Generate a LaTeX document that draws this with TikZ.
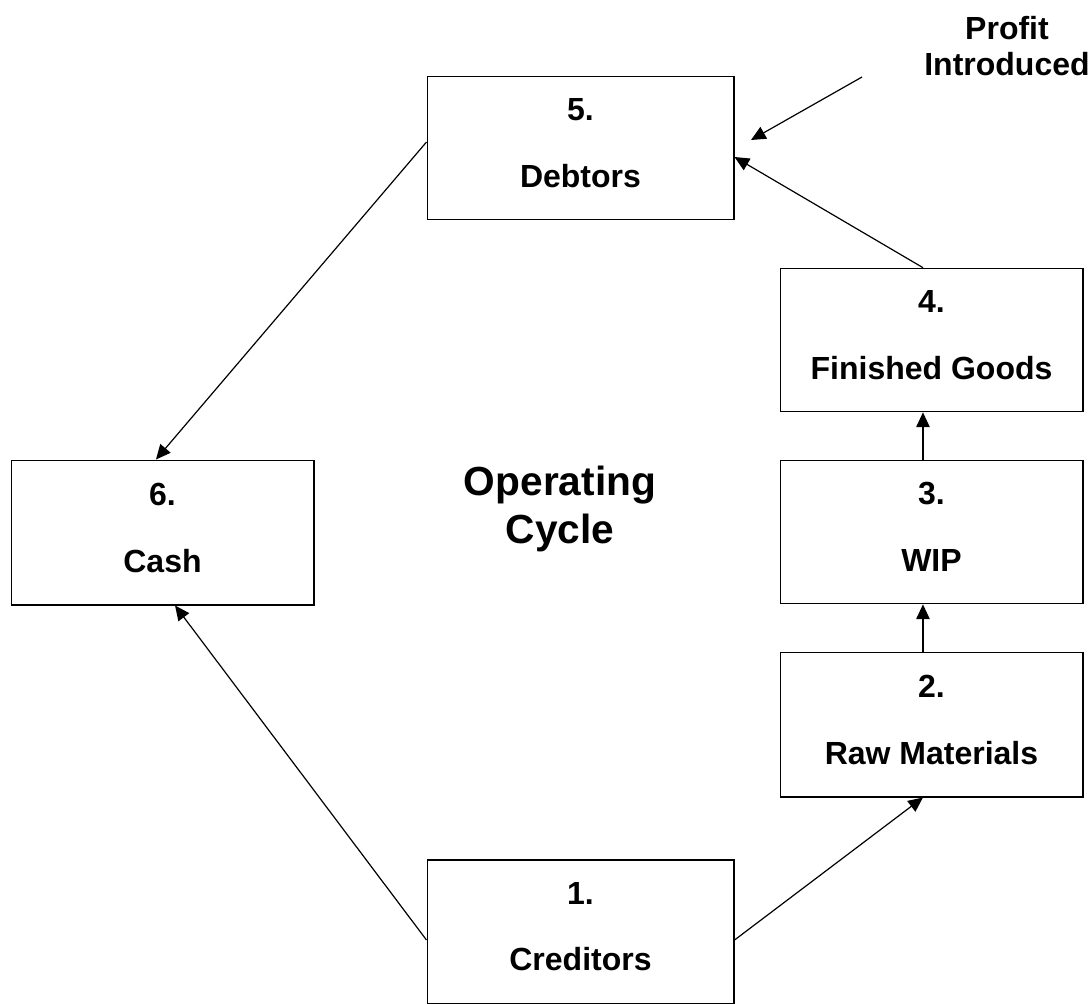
\documentclass[tikz,border=0pt]{standalone}
\usepackage{fontspec}
\setmainfont{Liberation Sans}
\usetikzlibrary{arrows.meta}

\begin{document}
\begin{tikzpicture}[x=0.75pt,y=-0.75pt,
  stage/.style={draw,line width=1pt,minimum width=227pt,minimum height=107.5pt,
    align=center,text depth=7.5pt,font=\fontsize{24}{28}\selectfont\bfseries},
  flow/.style={line width=0.9pt,-{Triangle[length=11pt,width=10pt]}}]
\useasboundingbox (0,0) rectangle (1090,1004);
%stages
  \node[stage,minimum width=230pt] (debtors) at (580.5,148) {5.\\[22pt]Debtors};
  \node[stage] (finished) at (931.5,340) {4.\\[22pt]Finished Goods};
  \node[stage] (wip) at (931.5,532) {3.\\[22pt]WIP};
  \node[stage,minimum height=108.5pt] (raw) at (931.5,724.5) {2.\\[22pt]Raw Materials};
  \node[stage,minimum width=230pt] (creditors) at (580.5,931.5) {1.\\[22pt]Creditors};
  \node[stage,minimum height=108.5pt] (cash) at (162.5,532.5) {6.\\[22pt]Cash};
%labels
  \node[align=center,font=\fontsize{30.5}{36}\selectfont\bfseries] (cycle) at (560,509) {Operating\\Cycle};
  \node[align=center,inner sep=0pt,font=\fontsize{24}{27.6}\selectfont\bfseries] (profit) at (1007,46) {Profit\\Introduced};
  \coordinate (pfrom) at (862,77);
  \coordinate (pto) at (751,140);
%flows
  \draw[flow] (pfrom) -- (pto);
  \draw[flow] ([xshift=-6.4pt]finished.north) -- ([yshift=-6.75pt]debtors.east);
  \draw[flow] ([yshift=4.5pt]debtors.west) -- ([xshift=-4.9pt]cash.north);
  \draw[flow] ([yshift=-6.4pt]creditors.west) -- ([xshift=9.4pt]cash.south);
  \draw[flow] ([yshift=-6.4pt]creditors.east) -- ([xshift=-6.4pt]raw.south);
  \draw[flow] ([xshift=-6.4pt]raw.north) -- ([xshift=-6.4pt]wip.south);
  \draw[flow] ([xshift=-6.4pt]wip.north) -- ([xshift=-6.4pt]finished.south);
\end{tikzpicture}
\end{document}
